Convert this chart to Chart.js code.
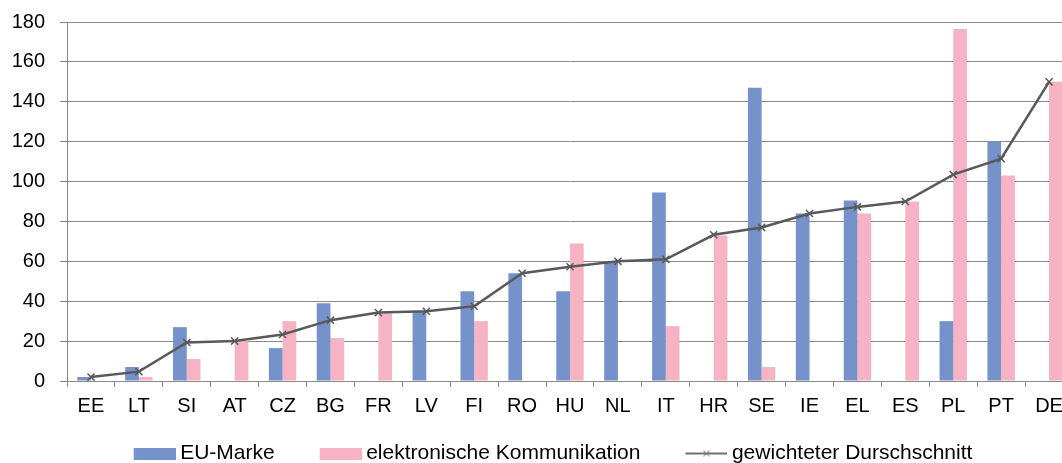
<!DOCTYPE html>
<html>
<head>
<meta charset="utf-8">
<script src="https://cdn.jsdelivr.net/npm/chart.js@4"></script>
<style>
  html, body { margin: 0; padding: 0; overflow: hidden; background: #fff; }
  #wrap { width: 1080px; height: 474px; }
</style>
</head>
<body>
<div id="wrap"><canvas id="chart"></canvas></div>
<script>
const countries = ['EE', 'LT', 'SI', 'AT', 'CZ', 'BG', 'FR', 'LV', 'FI', 'RO', 'HU',
  'NL', 'IT', 'HR', 'SE', 'IE', 'EL', 'ES', 'PL', 'PT', 'DE'];
const euMarke = [2, 7, 27, null, 16.5, 39, null, 35, 45, 54, 45,
  59.5, 94.5, null, 147, 84, 90.5, null, 30, 120, null];
const elekKomm = [null, 2, 11, 20, 30, 21.5, 34, null, 30, null, 69,
  null, 27.5, 73, 7, null, 84, 90, 176.5, 103, 150];
const gewichtet = [2, 4.7, 19.3, 20, 23.3, 30.5, 34.3, 35, 37.5, 54, 57.3,
  60, 61, 73.3, 77, 84, 87.3, 90, 103.5, 111.5, 150];

const BLUE = '#7592ca';
const PINK = '#f6b3c4';
const LINE = '#595959';
const GRID = '#898989';
const FONT = "'Liberation Sans', Arial, sans-serif";

// legend symbols: 68px images whose symbol sits in the right 42px,
// so there is a wide gap before each entry and a narrow one before its text
function legendSymbol(draw) {
  const c = document.createElement('canvas');
  c.width = 68;
  c.height = 12;
  draw(c.getContext('2d'));
  return c;
}
const blueBox = legendSymbol((g) => {
  g.fillStyle = BLUE;
  g.fillRect(26, 0, 42, 12);
});
const pinkBox = legendSymbol((g) => {
  g.fillStyle = PINK;
  g.fillRect(26, 0, 42, 12);
});
const lineMarker = legendSymbol((g) => {
  g.strokeStyle = '#6f6f6f';
  g.lineWidth = 2;
  g.beginPath();
  g.moveTo(26, 6);
  g.lineTo(68, 6);
  g.stroke();
  g.lineWidth = 1;
  g.beginPath();
  g.moveTo(44, 3);
  g.lineTo(50, 9);
  g.moveTo(50, 3);
  g.lineTo(44, 9);
  g.stroke();
});
const symbols = [blueBox, pinkBox, lineMarker];

new Chart(document.getElementById('chart'), {
  type: 'bar',
  data: {
    labels: countries,
    datasets: [
      {
        label: 'EU-Marke',
        data: euMarke,
        backgroundColor: BLUE,
        borderWidth: 0,
        categoryPercentage: 0.572,
        barPercentage: 1,
        order: 1,
      },
      {
        label: 'elektronische Kommunikation',
        data: elekKomm,
        backgroundColor: PINK,
        borderWidth: 0,
        categoryPercentage: 0.572,
        barPercentage: 1,
        order: 1,
      },
      {
        type: 'line',
        label: 'gewichteter Durschschnitt',
        data: gewichtet,
        borderColor: LINE,
        backgroundColor: LINE,
        borderWidth: 2.5,
        tension: 0,
        pointStyle: 'crossRot',
        pointRadius: 5,
        pointBorderColor: LINE,
        pointBorderWidth: 1.5,
        order: 0,
      },
    ],
  },
  options: {
    responsive: true,
    maintainAspectRatio: false,
    animation: false,
    events: [],
    layout: {
      padding: {top: 22, left: 13, right: 7, bottom: 0},
    },
    plugins: {
      tooltip: {enabled: false},
      legend: {
        position: 'bottom',
        labels: {
          usePointStyle: true,
          pointStyleWidth: 56,
          boxWidth: 56,
          boxHeight: 12,
          padding: 25,
          color: '#000',
          font: {family: FONT, size: 21},
          sort: (a, b) => a.datasetIndex - b.datasetIndex,
          generateLabels: (chart) => {
            const items = Chart.defaults.plugins.legend.labels.generateLabels(chart);
            items.forEach((item) => {
              item.pointStyle = symbols[item.datasetIndex];
              item.lineWidth = 0;
            });
            return items;
          },
        },
      },
    },
    scales: {
      x: {
        ticks: {color: '#000', font: {family: FONT, size: 20}, padding: 7},
        grid: {drawOnChartArea: false, color: GRID, tickLength: 6},
        border: {color: GRID},
        afterFit: (scale) => {
          scale.height = 37;
        },
      },
      y: {
        min: 0,
        max: 180,
        ticks: {stepSize: 20, color: '#000', font: {family: FONT, size: 20}, padding: 15},
        grid: {color: GRID, tickLength: 7},
        border: {color: GRID},
        // fixed axis width; the tick padding should not push the plot down
        afterFit: (scale) => {
          scale.width = 54;
          scale.paddingTop = 0;
        },
      },
    },
  },
});
</script>
</body>
</html>
